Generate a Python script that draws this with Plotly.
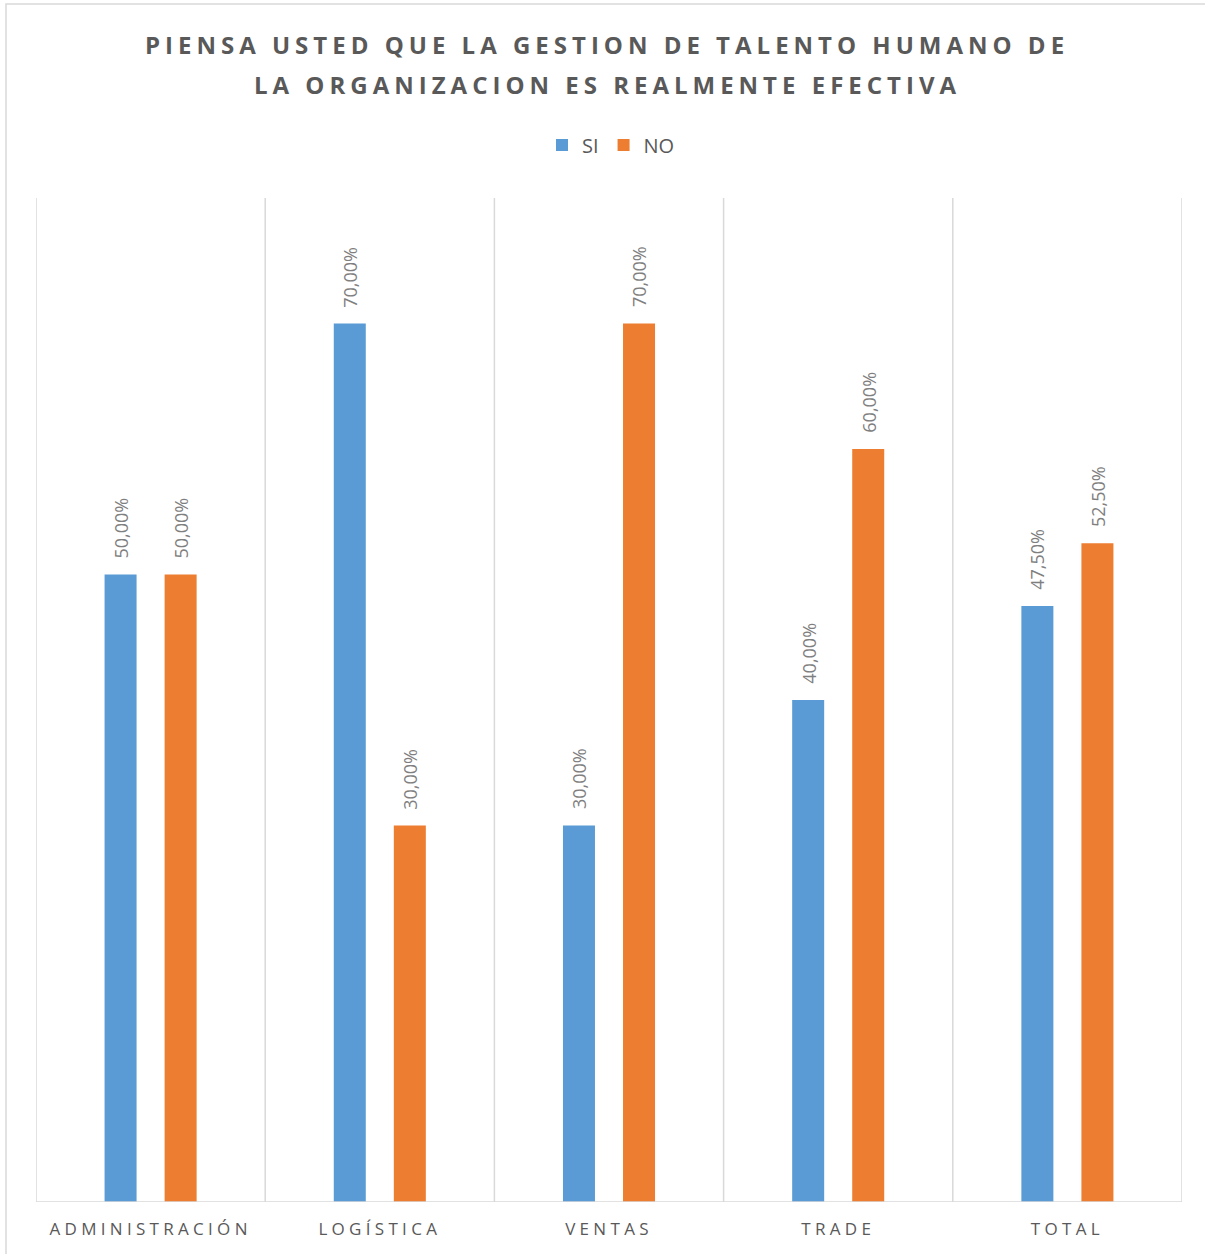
import plotly.graph_objects as go

categories = ["ADMINISTRACIÓN", "LOGÍSTICA", "VENTAS", "TRADE", "TOTAL"]
si_values = [50.0, 70.0, 30.0, 40.0, 47.5]
no_values = [50.0, 30.0, 70.0, 60.0, 52.5]
series_names = ["SI", "NO"]
title_lines = ["PIENSA USTED QUE LA GESTION DE TALENTO HUMANO DE",
               "LA ORGANIZACION ES REALMENTE EFECTIVA"]

BLUE = "#5b9bd5"
ORANGE = "#ed7d31"
GRID = "#d9d9d9"
TXT = "#595959"
FONT = "Open Sans"

W, H = 1205, 1254
L, R, T, B = 36, 23, 198, 52
PW, PH = W - L - R, H - T - B

def px_x(p):
    return (p - L) / PW

def px_y(p):
    return (H - B - p) / PH

def spaced(s, sp):
    return f'<span style="letter-spacing:{sp}px">{s}</span>'

fig = go.Figure()
fig.add_trace(go.Bar(x=categories, y=si_values, name=series_names[0],
                     marker=dict(color=BLUE, line=dict(width=0))))
fig.add_trace(go.Bar(x=categories, y=no_values, name=series_names[1],
                     marker=dict(color=ORANGE, line=dict(width=0))))

annotations = []
for vals, shift in ((si_values, -30), (no_values, 30)):
    for c, v in zip(categories, vals):
        annotations.append(dict(
            x=c, y=v, xref="x", yref="y", text=f"{v:.2f}%".replace(".", ","),
            showarrow=False, textangle=-90, xshift=shift, yshift=14,
            xanchor="center", yanchor="bottom",
            font=dict(family=FONT, size=18, color="#7f7f7f")))

for i, (line, yp) in enumerate(zip(title_lines, (45, 84))):
    annotations.append(dict(
        x=px_x(607), y=px_y(yp), xref="paper", yref="paper",
        text="<b>" + spaced(line, 5.0) + "</b>", showarrow=False,
        xanchor="center", yanchor="middle",
        font=dict(family=FONT, size=24, color=TXT)))

shapes = []
for i in range(len(categories) + 1):
    shapes.append(dict(type="line", xref="x", yref="paper", x0=i - 0.5, x1=i - 0.5,
                       y0=0, y1=1, line=dict(color=GRID, width=1.5), layer="below"))
shapes.append(dict(type="line", xref="paper", yref="y", x0=0, x1=1, y0=0, y1=0,
                   line=dict(color=GRID, width=1.5)))
shapes.append(dict(type="rect", xref="paper", yref="paper",
                   x0=px_x(6), x1=px_x(1215), y0=px_y(1265), y1=px_y(4),
                   line=dict(color=GRID, width=1.5), fillcolor="rgba(0,0,0,0)"))

fig.update_layout(
    width=W, height=H,
    margin=dict(l=L, r=R, t=T, b=B),
    paper_bgcolor="white", plot_bgcolor="white",
    barmode="group", bargap=0.476, bargroupgap=0.467,
    showlegend=True,
    legend=dict(orientation="h", x=px_x(611), y=px_y(145), xanchor="center", yanchor="middle",
                font=dict(family=FONT, size=20, color=TXT), itemwidth=30,
                traceorder="normal"),
    xaxis=dict(range=[-0.5, len(categories) - 0.5], showgrid=False, zeroline=False,
               showline=False, ticks="", ticklabelstandoff=15,
               tickmode="array", tickvals=categories,
               ticktext=[spaced(c, 4.3) for c in categories],
               tickfont=dict(family=FONT, size=17, color=TXT)),
    yaxis=dict(range=[0, 80], showgrid=False, zeroline=False, showticklabels=False,
               showline=False, ticks=""),
    annotations=annotations, shapes=shapes,
)

fig.write_html("out.html")
